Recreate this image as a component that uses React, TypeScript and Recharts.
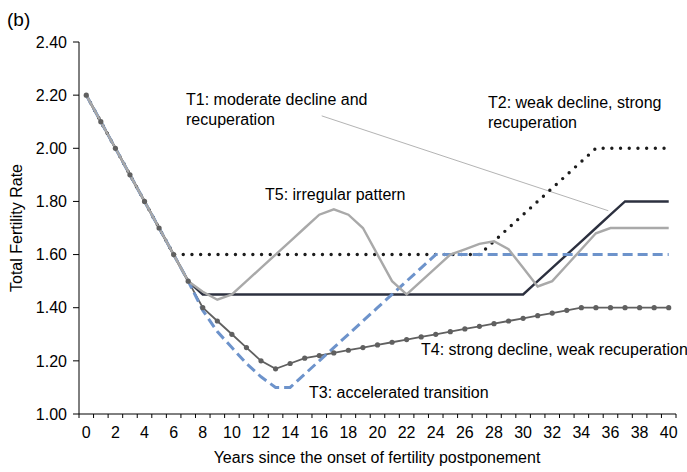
import { LineChart, Line, XAxis, YAxis, ReferenceLine } from "recharts";

const years = [
  0, 1, 2, 3, 4, 5, 6, 7, 8, 9, 10, 11, 12, 13, 14, 15, 16, 17, 18, 19, 20,
  21, 22, 23, 24, 25, 26, 27, 28, 29, 30, 31, 32, 33, 34, 35, 36, 37, 38, 39, 40,
];

// T1: moderate decline and recuperation
const t1 = [
  2.2, 2.1, 2.0, 1.9, 1.8, 1.7, 1.6, 1.5, 1.45, 1.45, 1.45, 1.45, 1.45, 1.45,
  1.45, 1.45, 1.45, 1.45, 1.45, 1.45, 1.45, 1.45, 1.45, 1.45, 1.45, 1.45, 1.45,
  1.45, 1.45, 1.45, 1.45, 1.5, 1.55, 1.6, 1.65, 1.7, 1.75, 1.8, 1.8, 1.8, 1.8,
];
// T2: weak decline, strong recuperation
const t2 = [
  2.2, 2.1, 2.0, 1.9, 1.8, 1.7, 1.6, 1.6, 1.6, 1.6, 1.6, 1.6, 1.6, 1.6, 1.6,
  1.6, 1.6, 1.6, 1.6, 1.6, 1.6, 1.6, 1.6, 1.6, 1.6, 1.6, 1.6, 1.6, 1.65, 1.7,
  1.75, 1.8, 1.85, 1.9, 1.95, 2.0, 2.0, 2.0, 2.0, 2.0, 2.0,
];
// T3: accelerated transition
const t3 = [
  2.2, 2.1, 2.0, 1.9, 1.8, 1.7, 1.6, 1.5, 1.39, 1.31, 1.25, 1.19, 1.14, 1.1,
  1.1, 1.15, 1.2, 1.25, 1.3, 1.35, 1.4, 1.45, 1.5, 1.55, 1.6, 1.6, 1.6, 1.6,
  1.6, 1.6, 1.6, 1.6, 1.6, 1.6, 1.6, 1.6, 1.6, 1.6, 1.6, 1.6, 1.6,
];
// T4: strong decline, weak recuperation
const t4 = [
  2.2, 2.1, 2.0, 1.9, 1.8, 1.7, 1.6, 1.5, 1.4, 1.35, 1.3, 1.25, 1.2, 1.17,
  1.19, 1.21, 1.22, 1.23, 1.24, 1.25, 1.26, 1.27, 1.28, 1.29, 1.3, 1.31, 1.32,
  1.33, 1.34, 1.35, 1.36, 1.37, 1.38, 1.39, 1.4, 1.4, 1.4, 1.4, 1.4, 1.4, 1.4,
];
// T5: irregular pattern
const t5 = [
  2.2, 2.1, 2.0, 1.9, 1.8, 1.7, 1.6, 1.5, 1.46, 1.43, 1.45, 1.5, 1.55, 1.6,
  1.65, 1.7, 1.75, 1.77, 1.75, 1.7, 1.6, 1.5, 1.45, 1.5, 1.55, 1.6, 1.62, 1.64,
  1.65, 1.62, 1.55, 1.48, 1.5, 1.56, 1.62, 1.68, 1.7, 1.7, 1.7, 1.7, 1.7,
];

const yTicks = [1.0, 1.2, 1.4, 1.6, 1.8, 2.0, 2.2, 2.4];

// leader line from the T1 note to its curve (data coordinates)
const leader = [
  { x: 16.17, y: 2.122 },
  { x: 35.85, y: 1.765 },
];

const data = years.map((x, i) => ({
  x,
  t1: t1[i],
  t2: t2[i],
  t3: t3[i],
  t4: t4[i],
  t5: t5[i],
}));

const W = 687;
const H = 472;
const LEFT = 79;
const RIGHT = 11;
const HALF = (W - LEFT - RIGHT) / years.length / 2;
const FONT = "'Liberation Sans', Arial, sans-serif";

function XTick(props: any) {
  const { x, y, payload } = props;
  const v = payload.value;
  return (
    <g>
      <line x1={x - HALF} y1={y} x2={x - HALF} y2={y + 4} stroke="#000" />
      {v === 40 && <line x1={x + HALF} y1={y} x2={x + HALF} y2={y + 4} stroke="#000" />}
      {v % 2 === 0 && (
        <text x={x} y={y + 24} textAnchor="middle" fontSize={16} fill="#000" fontFamily={FONT}>
          {v}
        </text>
      )}
    </g>
  );
}

export default function App() {
  return (
    <div style={{ position: "absolute", left: 0, top: 0, width: W, height: H, fontFamily: FONT }}>
      <LineChart width={W} height={H} data={data} margin={{ top: 42, right: RIGHT, left: 0, bottom: 0 }}>
        <XAxis
          dataKey="x"
          type="number"
          domain={[-0.5, 40.5]}
          ticks={years}
          interval={0}
          height={58}
          tickSize={0}
          tickMargin={0}
          tickLine={false}
          axisLine={{ stroke: "#000" }}
          tick={(p: any) => <XTick {...p} />}
        />
        <YAxis
          type="number"
          domain={[1, 2.4]}
          ticks={yTicks}
          width={LEFT}
          tickSize={6}
          tickMargin={6}
          tickFormatter={(v: number) => v.toFixed(2)}
          axisLine={{ stroke: "#000" }}
          tickLine={{ stroke: "#000" }}
          tick={{ fill: "#000", fontSize: 16, fontFamily: FONT }}
        />
        <ReferenceLine
          segment={leader}
          stroke="#a0a0a0"
          strokeWidth={0.8}
          ifOverflow="visible"
        />
        <Line
          dataKey="t4"
          type="linear"
          stroke="#606060"
          strokeWidth={1.8}
          dot={{ r: 2.6, fill: "#606060", stroke: "none" }}
          activeDot={false}
          isAnimationActive={false}
        />
        <Line
          dataKey="t1"
          type="linear"
          stroke="#2c303f"
          strokeWidth={2.4}
          dot={false}
          activeDot={false}
          isAnimationActive={false}
        />
        <Line
          dataKey="t2"
          type="linear"
          stroke="#1c1c1c"
          strokeWidth={3.4}
          strokeLinecap="round"
          strokeDasharray="0 8.7"
          dot={false}
          activeDot={false}
          isAnimationActive={false}
        />
        <Line
          dataKey="t3"
          type="linear"
          stroke="#6d93cb"
          strokeWidth={3}
          strokeDasharray="10 5"
          dot={false}
          activeDot={false}
          isAnimationActive={false}
        />
        <Line
          dataKey="t5"
          type="linear"
          stroke="#a9a9a9"
          strokeWidth={2.4}
          dot={false}
          activeDot={false}
          isAnimationActive={false}
        />
      </LineChart>
      <svg
        width={W}
        height={H}
        style={{ position: "absolute", left: 0, top: 0, pointerEvents: "none" }}
        fontFamily={FONT}
        fontSize={16}
        fill="#000"
      >
        <text x={7} y={26} fontSize={19}>(b)</text>
        <text x={186} y={105}>T1: moderate decline and</text>
        <text x={186} y={125}>recuperation</text>
        <text x={488} y={108}>T2: weak decline, strong</text>
        <text x={488} y={128}>recuperation</text>
        <text x={265} y={200}>T5: irregular pattern</text>
        <text x={421} y={355}>T4: strong decline, weak recuperation</text>
        <text x={309} y={398}>T3: accelerated transition</text>
        <text x={377} y={463} textAnchor="middle">Years since the onset of fertility postponement</text>
        <text x={22} y={228} textAnchor="middle" transform="rotate(-90 22 228)">Total Fertility Rate</text>
      </svg>
    </div>
  );
}
